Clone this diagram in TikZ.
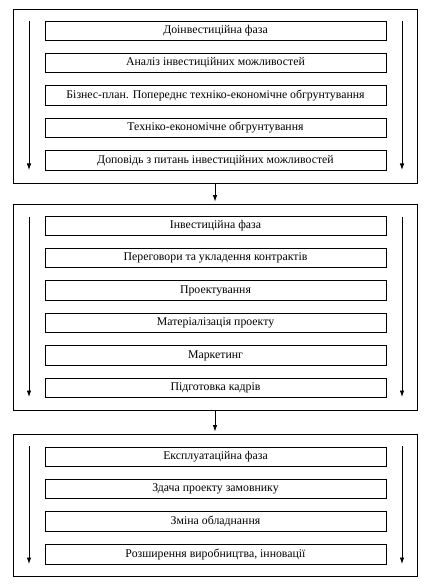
\documentclass[tikz,border=0pt]{standalone}
\usepackage{fontspec}
\setmainfont{Liberation Serif}
\usetikzlibrary{arrows.meta}
\begin{document}
\begin{tikzpicture}[x=1pt,y=-1pt,
 stagebox/.style={draw, line width=0.8pt, minimum width=341pt, minimum height=19.5pt, inner sep=0pt, font=\fontsize{11.8}{12}\selectfont},
 phasebox/.style={draw, line width=0.9pt, minimum width=404pt, inner sep=0pt},
 flow/.style={-{Latex[length=6.5pt,width=4.5pt]}, line width=0.8pt}]
\useasboundingbox (0,0) rectangle (427,588);
% phases
\node[phasebox, minimum height=174pt] (o1) at (215,96) {};
\node[phasebox, minimum height=206pt] (o2) at (215,307) {};
\node[phasebox, minimum height=142pt] (o3) at (215,505) {};
% phase 1
\node[stagebox] (a1) at (215.5,31) {Доінвестиційна фаза};
\node[stagebox] (a2) at (215.5,63) {Аналіз інвестиційних можливостей\hspace{48pt}};
\node[stagebox] (a3) at (215.5,95.5) {Бізнес-план. Попереднє техніко-економічне обгрунтування};
\node[stagebox] (a4) at (215.5,128) {Техніко-економічне обгрунтування};
\node[stagebox] (a5) at (215.5,160.5) {Доповідь з питань інвестиційних можливостей};
% phase 2
\node[stagebox] (b1) at (215.5,226) {Інвестиційна фаза};
\node[stagebox] (b2) at (215.5,258) {Переговори та укладення контрактів};
\node[stagebox] (b3) at (215.5,290.5) {Проектування};
\node[stagebox] (b4) at (215.5,323) {Матеріалізація проекту};
\node[stagebox] (b5) at (215.5,355.5) {\raisebox{2pt}{Маркетинг}};
\node[stagebox] (b6) at (215.5,388) {Підготовка кадрів};
% phase 3
\node[stagebox] (c1) at (215.5,457) {Експлуатаційна фаза};
\node[stagebox] (c2) at (215.5,489) {Здача проекту замовнику};
\node[stagebox] (c3) at (215.5,521.5) {Зміна обладнання};
\node[stagebox] (c4) at (215.5,554.5) {Розширення виробництва, інновації};
% side arrows
\coordinate (l1a) at (29,21);  \coordinate (l1b) at (29,170);
\coordinate (r1a) at (402,21); \coordinate (r1b) at (402,170);
\coordinate (l2a) at (29,217);  \coordinate (l2b) at (29,397);
\coordinate (r2a) at (402,217); \coordinate (r2b) at (402,397);
\coordinate (l3a) at (29,446);  \coordinate (l3b) at (29,564);
\coordinate (r3a) at (402,446); \coordinate (r3b) at (402,564);
\draw[flow] (l1a) -- (l1b);
\draw[flow] (r1a) -- (r1b);
\draw[flow] (l2a) -- (l2b);
\draw[flow] (r2a) -- (r2b);
\draw[flow] (l3a) -- (l3b);
\draw[flow] (r3a) -- (r3b);
% between phases
\draw[flow] (o1.south) -- ([yshift=2pt]o2.north);
\draw[flow] (o2.south) -- ([yshift=2pt]o3.north);
\end{tikzpicture}
\end{document}
